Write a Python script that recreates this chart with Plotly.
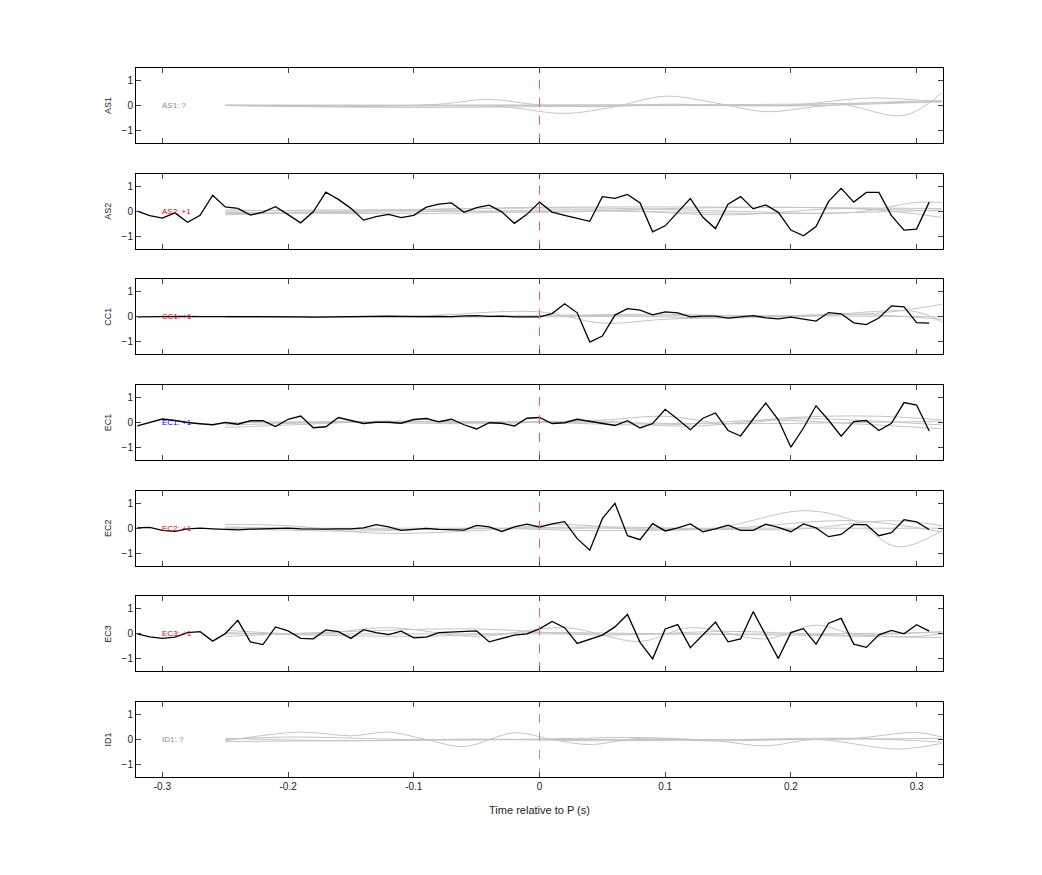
import numpy as np
import plotly.graph_objects as go
from plotly.subplots import make_subplots

stations = ["AS1", "AS2", "CC1", "EC1", "EC2", "EC3", "ID1"]
labels = ["AS1: ?", "AS2: +1", "CC1: +1", "EC1: +1", "EC2: +1", "EC3: +1", "ID1: ?"]
label_colors = ["#888888", "#dd0000", "#dd0000", "#0000dd", "#dd0000", "#dd0000", "#888888"]
marker_colors = ["#ff5555", "#ff5555", "#ff5555", "#ff5555", "#ff5555", "#ff5555", "#999999"]

t_black = [round(-0.32 + 0.01 * i, 2) for i in range(64)]

black = {
    "AS2": [0, -0.18, -0.28, -0.07, -0.45, -0.17, 0.64, 0.17, 0.11, -0.16, -0.04, 0.18, -0.14, -0.47, -0.03, 0.76,
            0.47, 0.11, -0.36, -0.22, -0.13, -0.26, -0.17, 0.16, 0.28, 0.33, -0.05, 0.14, 0.24, -0.03, -0.49, -0.13,
            0.36, -0.04, -0.17, -0.29, -0.41, 0.58, 0.51, 0.67, 0.33, -0.83, -0.59, -0.04, 0.5, -0.25, -0.7, 0.28,
            0.58, 0.09, 0.25, -0.05, -0.76, -0.99, -0.62, 0.39, 0.91, 0.36, 0.75, 0.75, -0.18, -0.76, -0.72, 0.36],
    "CC1": [0, 0.01, 0.02, 0.02, 0.02, 0.01, 0.01, 0.0, 0.0, 0.01, 0.02, 0.03, 0.02, 0.0, -0.01, 0.0,
            0.01, 0.02, 0.03, 0.04, 0.03, 0.02, 0.0, 0.01, 0.02, 0.01, 0.04, 0.05, 0.02, 0.03, 0.0, 0.01,
            0, 0.13, 0.52, 0.16, -1.01, -0.77, 0.07, 0.33, 0.27, 0.08, 0.2, 0.16, 0, 0.03, 0.03, -0.05,
            0, 0.05, -0.04, -0.08, -0.01, -0.09, -0.17, 0.17, 0.12, -0.24, -0.31, -0.05, 0.44, 0.4, -0.23, -0.25],
    "EC1": [-0.14, 0, 0.14, 0.08, 0, -0.05, -0.09, 0, -0.07, 0.07, 0.07, -0.16, 0.13, 0.26, -0.21, -0.17,
            0.2, 0.08, -0.04, 0.01, 0.01, -0.03, 0.12, 0.16, 0.03, 0.13, -0.09, -0.26, -0.01, -0.03, -0.14, 0.17,
            0.2, -0.04, -0.01, 0.13, 0.05, -0.04, -0.12, 0.07, -0.22, -0.04, 0.53, 0.13, -0.29, 0.17, 0.38, -0.32,
            -0.54, 0.14, 0.78, 0.11, -0.99, -0.22, 0.67, 0.09, -0.55, 0.04, 0.08, -0.32, -0.03, 0.8, 0.7, -0.34],
    "EC2": [0.01, 0.03, -0.09, -0.13, -0.03, 0, -0.03, -0.05, -0.07, -0.04, -0.03, -0.01, 0, -0.03, -0.05, -0.04,
            -0.03, -0.03, 0.01, 0.14, 0.05, -0.09, -0.05, -0.01, -0.05, -0.08, -0.08, 0.11, 0.05, -0.13, 0.05, 0.16,
            0.04, 0.17, 0.26, -0.42, -0.88, 0.38, 1.0, -0.3, -0.46, 0.18, -0.11, 0.01, 0.17, -0.14, -0.03, 0.12,
            -0.09, -0.09, 0.16, 0.03, -0.14, 0.17, 0.01, -0.34, -0.25, 0.14, 0.14, -0.3, -0.18, 0.34, 0.25, -0.05],
    "EC3": [0, -0.12, -0.18, -0.13, 0.05, 0.09, -0.29, 0.01, 0.54, -0.32, -0.43, 0.28, 0.12, -0.18, -0.2, 0.16,
            0.09, -0.18, 0.17, 0.05, -0.03, 0.11, -0.16, -0.13, 0.05, 0.08, 0.09, 0.12, -0.32, -0.18, -0.05, 0,
            0.2, 0.5, 0.25, -0.38, -0.21, -0.05, 0.28, 0.78, -0.34, -1.0, 0.2, 0.37, -0.55, -0.04, 0.47, -0.32,
            -0.2, 0.89, -0.05, -0.99, 0.05, 0.21, -0.41, 0.43, 0.62, -0.41, -0.54, -0.04, 0.14, 0, 0.37, 0.11],
}

# gray traces: (x list, y list) per station
gray = {
    "AS1": [
        ([-0.25, -0.15, -0.08, -0.04, 0, 0.05, 0.1, 0.15, 0.2, 0.26, 0.32], [0, -0.05, 0.05, 0.24, 0.02, -0.05, 0.05, 0, -0.02, 0.05, 0.15]),
        ([-0.25, -0.1, -0.03, 0.02, 0.06, 0.1, 0.14, 0.18, 0.22, 0.26, 0.32], [0, -0.02, -0.05, -0.32, -0.05, 0.37, 0.1, -0.25, -0.05, 0.1, 0.2]),
        ([-0.25, -0.1, 0.0, 0.1, 0.2, 0.24, 0.29, 0.32], [0.02, 0.0, 0.0, 0.02, 0.0, 0.05, -0.4, 0.5]),
        ([-0.25, -0.1, 0.1, 0.2, 0.265, 0.32], [0.0, -0.08, 0.0, 0.02, 0.3, 0.12]),
        ([-0.25, 0, 0.2, 0.32], [0, 0.02, 0.05, 0.15]),
    ],
    "AS2": [
        ([-0.25, -0.15, -0.05, 0.05, 0.15, 0.25, 0.3, 0.32], [0.05, 0.0, 0.1, 0.12, 0.0, -0.05, 0.35, 0.35]),
        ([-0.25, -0.15, -0.05, 0.05, 0.15, 0.25, 0.32], [-0.1, -0.05, 0.0, 0.05, -0.15, 0.1, -0.25]),
        ([-0.25, -0.1, 0.0, 0.1, 0.2, 0.32], [0.0, 0.05, -0.05, 0.1, 0.15, 0.0]),
        ([-0.25, -0.1, 0.05, 0.2, 0.32], [-0.05, -0.1, 0.0, -0.1, 0.05]),
        ([-0.25, 0, 0.32], [-0.15, 0.15, 0.1]),
    ],
    "CC1": [
        ([-0.25, -0.1, 0.0, 0.05, 0.1, 0.2, 0.27, 0.32], [0.0, 0.03, 0.2, -0.25, -0.1, 0.05, 0.15, 0.5]),
        ([-0.25, -0.1, 0.0, 0.1, 0.2, 0.3, 0.32], [-0.03, 0.0, 0.05, 0.1, 0.0, 0.2, -0.2]),
        ([-0.25, -0.1, 0.05, 0.15, 0.25, 0.32], [0.0, -0.03, 0.05, -0.05, 0.1, -0.1]),
        ([-0.25, 0.0, 0.15, 0.32], [0.02, 0.0, 0.05, 0.0]),
    ],
    "EC1": [
        ([-0.25, -0.2, -0.12, -0.05, 0.05, 0.1, 0.15, 0.2, 0.25, 0.32], [-0.2, -0.1, 0.05, 0.0, 0.1, 0.25, -0.05, 0.15, 0.1, -0.1]),
        ([-0.25, -0.15, -0.05, 0.05, 0.12, 0.2, 0.27, 0.32], [-0.1, 0.0, -0.05, 0.05, -0.15, 0.2, 0.25, 0.1]),
        ([-0.25, -0.1, 0.0, 0.1, 0.18, 0.25, 0.32], [0.0, 0.05, 0.0, -0.1, 0.1, -0.05, -0.25]),
        ([-0.25, 0.0, 0.15, 0.32], [0.0, 0.02, -0.05, 0.05]),
    ],
    "EC2": [
        ([-0.25, -0.2, -0.13, -0.05, 0.02, 0.08, 0.14, 0.21, 0.25, 0.285, 0.32], [0.15, 0.1, -0.2, -0.1, 0.15, -0.05, 0.0, 0.7, 0.3, -0.75, -0.1]),
        ([-0.25, -0.15, -0.05, 0.05, 0.15, 0.25, 0.32], [0.0, -0.12, 0.0, -0.1, 0.0, 0.3, -0.15]),
        ([-0.25, -0.1, 0.05, 0.2, 0.28, 0.32], [0.05, -0.05, 0.05, -0.05, 0.3, 0.1]),
        ([-0.25, 0.0, 0.2, 0.32], [0.0, 0.0, 0.0, 0.0]),
    ],
    "EC3": [
        ([-0.25, -0.18, -0.12, -0.05, 0.02, 0.08, 0.12, 0.18, 0.22, 0.25, 0.32], [0.15, 0.0, 0.25, -0.1, 0.25, -0.3, 0.25, -0.2, 0.35, 0.0, -0.15]),
        ([-0.25, -0.15, -0.05, 0.05, 0.15, 0.25, 0.32], [-0.1, 0.1, 0.2, -0.05, 0.1, -0.05, 0.1]),
        ([-0.25, -0.1, 0.0, 0.1, 0.2, 0.3, 0.32], [0.05, -0.1, 0.05, 0.0, -0.05, -0.1, 0.0]),
        ([-0.25, 0.0, 0.2, 0.32], [0.0, 0.0, 0.0, 0.05]),
    ],
    "ID1": [
        ([-0.25, -0.19, -0.15, -0.12, -0.09, -0.06, -0.02, 0.01, 0.04, 0.08, 0.14, 0.18, 0.22, 0.285, 0.32],
         [-0.05, 0.3, 0.15, 0.3, 0.0, -0.28, 0.27, 0.0, -0.2, 0.05, -0.05, -0.25, 0.0, -0.38, -0.15]),
        ([-0.25, -0.2, -0.1, -0.03, 0.03, 0.08, 0.13, 0.2, 0.25, 0.3, 0.32], [0.0, 0.1, 0.0, 0.0, 0.05, 0.08, -0.05, 0.0, 0.05, 0.28, 0.1]),
        ([-0.25, -0.15, -0.05, 0.05, 0.15, 0.25, 0.32], [0.05, -0.05, 0.02, -0.05, 0.0, 0.05, -0.1]),
        ([-0.25, 0.0, 0.2, 0.32], [-0.08, 0.0, 0.0, 0.05]),
    ],
}

xticks = [-0.3, -0.2, -0.1, 0, 0.1, 0.2, 0.3]
xticktext = ["-0.3", "-0.2", "-0.1", "0", "0.1", "0.2", "0.3"]

fig = make_subplots(rows=7, cols=1, vertical_spacing=0.0435)

for i, st in enumerate(stations):
    r = i + 1
    for gx, gy in gray[st]:
        fig.add_trace(go.Scatter(x=gx, y=gy, mode="lines", line=dict(color="#c4c4c4", width=1, shape="spline"),
                                 showlegend=False, hoverinfo="skip"), row=r, col=1)
    if st in black:
        fig.add_trace(go.Scatter(x=t_black, y=black[st], mode="lines", line=dict(color="black", width=1.3),
                                 showlegend=False), row=r, col=1)
    fig.add_trace(go.Scatter(x=[0, 0], y=[-1.5, 1.5], mode="lines",
                             line=dict(color=marker_colors[i], width=1, dash="dash"),
                             showlegend=False, hoverinfo="skip"), row=r, col=1)
    fig.add_annotation(x=-0.302, y=0, text=labels[i], showarrow=False, xanchor="left",
                       font=dict(size=8, color=label_colors[i]), row=r, col=1)
    fig.update_yaxes(range=[-1.5, 1.5], tickvals=[-1, 0, 1], ticks="inside", ticklen=5, mirror="ticks",
                     showline=True, linecolor="black", linewidth=1, showgrid=False, zeroline=False,
                     title=dict(text=st, font=dict(size=9), standoff=8),
                     tickfont=dict(size=10), row=r, col=1)
    fig.update_xaxes(range=[-0.321, 0.321], tickvals=xticks, ticktext=xticktext, ticks="inside", ticklen=5,
                     mirror="ticks", showline=True, linecolor="black", linewidth=1, showgrid=False,
                     zeroline=False, showticklabels=(r == 7), tickfont=dict(size=10), row=r, col=1)

fig.update_xaxes(title=dict(text="Time relative to P (s)", font=dict(size=11)), row=7, col=1)

fig.update_layout(width=1042, height=875, plot_bgcolor="white", paper_bgcolor="white",
                  margin=dict(l=128, r=107, t=60, b=106),
                  font=dict(family="Liberation Sans, Arial", color="#222222"))

fig.write_html("out.html")
